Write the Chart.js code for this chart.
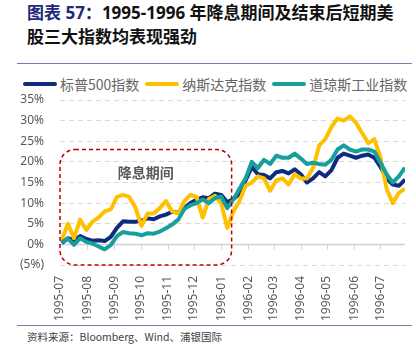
<!DOCTYPE html>
<html>
<head>
<meta charset="utf-8">
<script src="https://cdn.jsdelivr.net/npm/chart.js@4/dist/chart.umd.min.js"></script>
<style>
  html, body { margin: 0; padding: 0; background: #fff; }
  body { width: 416px; height: 347px; position: relative; overflow: hidden;
         font-family: "Noto Sans", "Noto Sans CJK SC", sans-serif; }
  .title { position: absolute; left: 27px; top: 1px; font-size: 17px; font-weight: bold;
           line-height: 24px; color: #111; font-family: "Noto Sans", "Noto Sans CJK SC", sans-serif; }
  .title .num { color: #1f2a78; }
  .rule { position: absolute; left: 17px; width: 395px; height: 1px; background: #7d7dab; }
  .legend { position: absolute; left: 23px; top: 74px; display: flex; align-items: center;
            font-size: 14px; color: #666; font-family: "Noto Sans CJK SC", sans-serif; }
  .legend .item { display: flex; align-items: center; margin-right: 6px; }
  .legend .swatch { width: 34px; height: 4px; border-radius: 2px; margin-right: 3px; }
  .source { position: absolute; left: 27px; top: 329px; font-size: 10.5px; color: #404040;
            font-family: "Noto Sans CJK SC", sans-serif; }
  #wrap { position: absolute; left: 0; top: 64px; width: 416px; height: 260px; }
</style>
</head>
<body>
<div class="title"><span class="num">图表 57：</span>1995-1996 年降息期间及结束后短期美<br>股三大指数均表现强劲</div>
<div class="rule" style="top:63px"></div>
<div class="legend" id="legend"></div>
<div id="wrap"><canvas id="chart" width="416" height="260"></canvas></div>
<div class="rule" style="top:325px"></div>
<div class="source">资料来源：Bloomberg、Wind、浦银国际</div>
<script>
// weekly closes, cumulative change since early July 1995 (%)
const dates = [
  '1995-07-03','1995-07-10','1995-07-17','1995-07-24','1995-07-31','1995-08-07','1995-08-14',
  '1995-08-21','1995-08-28','1995-09-04','1995-09-11','1995-09-18','1995-09-25','1995-10-02',
  '1995-10-09','1995-10-16','1995-10-23','1995-10-30','1995-11-06','1995-11-13','1995-11-20',
  '1995-11-27','1995-12-04','1995-12-11','1995-12-18','1995-12-25','1996-01-01','1996-01-08',
  '1996-01-15','1996-01-22','1996-01-29','1996-02-05','1996-02-12','1996-02-19','1996-02-26',
  '1996-03-04','1996-03-11','1996-03-18','1996-03-25','1996-04-01','1996-04-08','1996-04-15',
  '1996-04-22','1996-04-29','1996-05-06','1996-05-13','1996-05-20','1996-05-27','1996-06-03',
  '1996-06-10','1996-06-17','1996-06-24','1996-07-01','1996-07-08','1996-07-15','1996-07-22',
  '1996-07-29'
];
const sp500 = [
  0.3, 1.5, 1.0, 2.0, 1.3, 0.9, 1.0, 0.8, 1.8, 4.0, 5.6, 5.5, 5.5, 5.7,
  6.3, 6.1, 6.8, 7.2, 7.9, 7.7, 8.8, 10.0, 10.8, 11.4, 11.2, 12.3, 12.0, 10.2,
  11.0, 12.3, 15.5, 18.8, 17.0, 16.8, 16.0, 17.5, 17.8, 17.2, 18.2, 17.0, 15.0, 16.0,
  17.5, 16.5, 18.0, 21.0, 22.0, 21.5, 21.0, 21.5, 21.8, 21.0, 18.8, 16.0, 14.5, 14.2,
  15.7
];
const nasdaq = [
  1.0, 5.0, 1.5, 6.0, 3.5, 5.5, 6.5, 8.0, 8.5, 11.5, 12.0, 11.5, 9.0, 4.5,
  7.5, 7.5, 8.8, 10.5, 8.0, 7.5, 10.5, 12.0, 11.5, 6.5, 11.0, 11.8, 10.0, 4.0,
  8.0, 10.5, 14.2, 15.0, 16.5, 16.0, 13.0, 15.5, 16.0, 14.5, 17.0, 16.0, 16.0, 18.5,
  24.0, 25.5, 28.5, 30.5, 30.0, 31.0, 29.5, 27.0, 24.5, 25.5, 21.0, 13.5, 10.0, 12.5,
  13.5
];
const dow = [
  0.5, 1.4, -0.1, 1.5, 0.6, 0.2, -0.5, -1.2, -0.2, 2.0, 3.0, 2.7, 2.6, 2.2,
  2.7, 2.6, 3.1, 3.9, 4.8, 6.0, 8.6, 9.5, 10.0, 10.9, 10.0, 11.2, 11.6, 8.8,
  10.9, 13.5, 16.0, 20.0, 18.5, 20.5, 19.5, 21.5, 21.0, 21.0, 22.0, 20.8, 19.5, 19.8,
  19.5, 19.3, 20.5, 23.0, 24.0, 23.0, 22.5, 23.0, 23.0, 22.5, 19.8, 17.0, 15.0, 16.5,
  18.6
];
const seriesNames = ['标普500指数', '纳斯达克指数', '道琼斯工业指数'];
const seriesColors = ['#0d2c80', '#ffc000', '#16a09c'];
const monthLabels = ['1995-07','1995-08','1995-09','1995-10','1995-11','1995-12','1996-01',
  '1996-02','1996-03','1996-04','1996-05','1996-06','1996-07'];
const yTicks = [-5, 0, 5, 10, 15, 20, 25, 30, 35];
const boxLabel = '降息期间';
const cutStart = '1995-07-01', cutBoxEnd = '1996-01-13';

const origin = Date.UTC(1995, 6, 1);
const dayOf = s => { const p = s.split('-').map(Number); return (Date.UTC(p[0], p[1] - 1, p[2] || 1) - origin) / 86400000; };
const days = dates.map(dayOf);
const monthDays = monthLabels.map(dayOf);

const legendEl = document.getElementById('legend');
seriesNames.forEach((n, i) => {
  const it = document.createElement('div'); it.className = 'item';
  it.innerHTML = '<span class="swatch" style="background:' + seriesColors[i] + '"></span><span>' + n + '</span>';
  legendEl.appendChild(it);
});

const boxPlugin = {
  id: 'extras',
  beforeDatasetsDraw(chart) {
    const { ctx, chartArea, scales: { x, y } } = chart;
    const y0 = y.getPixelForValue(0);
    ctx.save();
    ctx.strokeStyle = '#d0d0d0'; ctx.lineWidth = 1.5;
    ctx.beginPath(); ctx.moveTo(chartArea.left, y0); ctx.lineTo(chartArea.right, y0); ctx.stroke();
    ctx.lineWidth = 1;
    monthDays.slice(1).forEach(d => {
      const px = Math.round(x.getPixelForValue(d)) + 0.5;
      ctx.beginPath(); ctx.moveTo(px, y0); ctx.lineTo(px, y0 + 5); ctx.stroke();
    });
    ctx.restore();
  },
  afterDatasetsDraw(chart) {
    const { ctx, scales: { x, y } } = chart;
    const l = x.getPixelForValue(dayOf(cutStart)), r = x.getPixelForValue(dayOf(cutBoxEnd));
    const t = y.getPixelForValue(23), b = y.getPixelForValue(-5);
    ctx.save();
    ctx.strokeStyle = '#c00000'; ctx.lineWidth = 1.5; ctx.setLineDash([4, 3]);
    ctx.beginPath(); ctx.roundRect(l, t, r - l, b - t, 15); ctx.stroke();
    ctx.setLineDash([]);
    ctx.fillStyle = '#595959'; ctx.font = 'bold 14px "Noto Sans CJK SC"';
    ctx.textAlign = 'center'; ctx.textBaseline = 'middle';
    ctx.fillText(boxLabel, x.getPixelForValue(98), y.getPixelForValue(17.5));
    ctx.restore();
  }
};

const sets = [sp500, nasdaq, dow].map((arr, i) => ({
  label: seriesNames[i],
  data: arr.map((v, k) => ({ x: days[k], y: v })),
  borderColor: seriesColors[i],
  borderWidth: 4,
  pointRadius: 0,
  tension: 0,
  borderJoinStyle: 'round',
  order: 3 - i
}));

new Chart(document.getElementById('chart'), {
  type: 'line',
  data: { datasets: sets },
  options: {
    responsive: false,
    animation: false,
    layout: { padding: { top: 36, right: 11, left: 0, bottom: 0 } },
    plugins: { legend: { display: false }, tooltip: { enabled: false } },
    scales: {
      x: {
        type: 'linear', min: 0, max: days[days.length - 1],
        afterBuildTicks: s => { s.ticks = monthDays.map(v => ({ value: v })); },
        afterFit: s => { s.height = 59; },
        grid: { display: false, drawTicks: false },
        border: { display: false },
        ticks: {
          autoSkip: false, minRotation: 90, maxRotation: 90, padding: 11,
          color: '#595959', font: { family: 'Noto Sans', size: 12 },
          callback: (v, i) => monthLabels[i]
        }
      },
      y: {
        min: -5, max: 35,
        afterBuildTicks: s => { s.ticks = yTicks.map(v => ({ value: v })); },
        afterFit: s => { s.width = 60; },
        grid: { color: '#d9d9d9', drawTicks: false, lineWidth: 1 },
        border: { display: false, dash: [5, 4] },
        ticks: {
          padding: 16, color: '#595959', font: { family: 'Noto Sans', size: 12 },
          callback: v => v < 0 ? '(' + Math.abs(v) + '%)' : v + '%'
        }
      }
    }
  },
  plugins: [boxPlugin]
});
</script>
</body>
</html>
